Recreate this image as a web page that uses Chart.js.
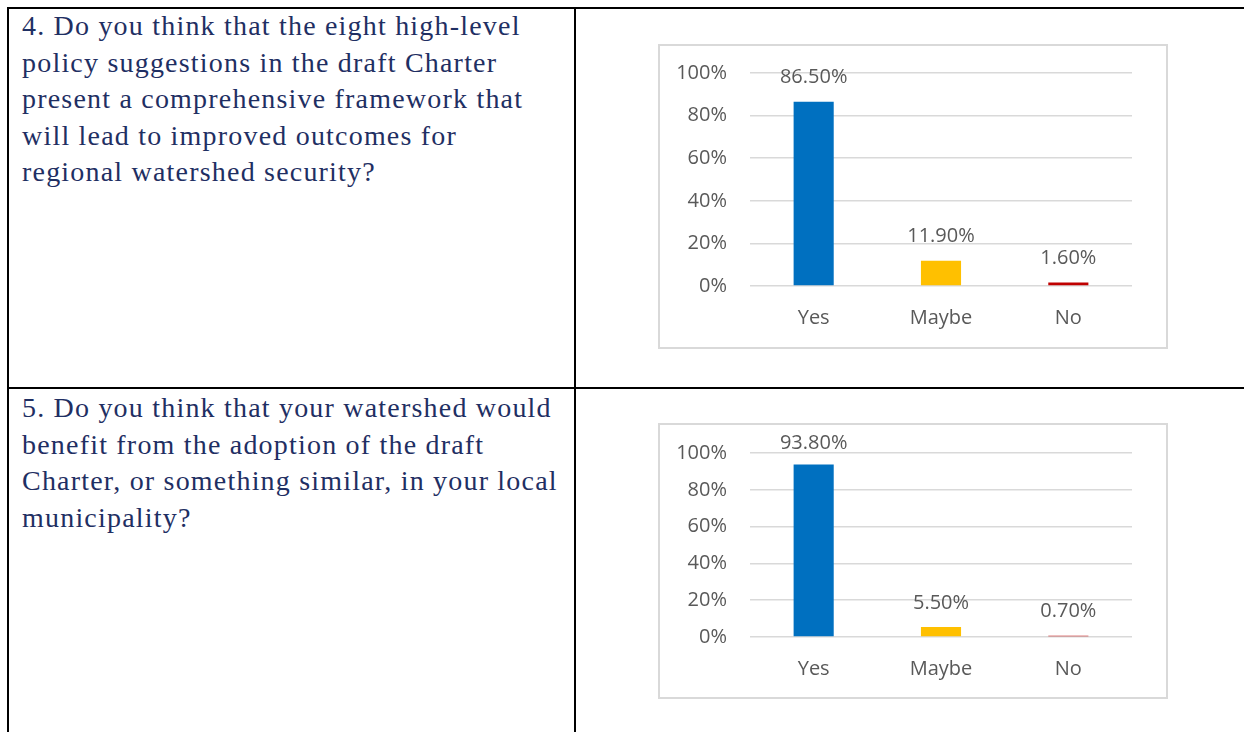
<!DOCTYPE html>
<html>
<head>
<meta charset="utf-8">
<script src="https://cdn.jsdelivr.net/npm/chart.js@4/dist/chart.umd.min.js"></script>
<style>
  body { margin: 0; width: 1244px; height: 732px; background: #fff; position: relative; overflow: hidden; }
  .rule { position: absolute; background: #000; }
  .question { position: absolute; left: 22px; font-family: "Liberation Serif", serif; font-size: 28px; letter-spacing: 1.2px; line-height: 36.6px; color: #1f2f63; white-space: nowrap; }
  .box { position: absolute; left: 658px; width: 510px; border: 2px solid #d9d9d9; box-sizing: border-box; background: #fff; }
  .box canvas { position: absolute; left: 0; top: 0; }
</style>
</head>
<body>
<!-- table rules -->
<div class="rule" style="left:7px;top:7px;width:1237px;height:2px"></div>
<div class="rule" style="left:7px;top:7px;width:2px;height:725px"></div>
<div class="rule" style="left:574px;top:7px;width:2px;height:725px"></div>
<div class="rule" style="left:7px;top:387px;width:1237px;height:2px"></div>

<div class="question" style="top:8px">4. Do you think that the eight high-level<br>policy suggestions in the draft Charter<br>present a comprehensive framework that<br>will lead to improved outcomes for<br>regional watershed security?</div>
<div class="question" style="top:390px">5. Do you think that your watershed would<br>benefit from the adoption of the draft<br>Charter, or something similar, in your local<br>municipality?</div>

<div class="box" style="top:44px;height:305px"><div style="position:absolute;left:0;top:0;width:506px;height:301px"><canvas id="chartQ4"></canvas></div></div>
<div class="box" style="top:423px;height:276px"><div style="position:absolute;left:0;top:0;width:506px;height:272px"><canvas id="chartQ5"></canvas></div></div>

<script>
const categories = ["Yes", "Maybe", "No"];
const q4Values = [86.5, 11.9, 1.6];
const q5Values = [93.8, 5.5, 0.7];
const barColors = ["#0070C0", "#FFC000", "#C00000"];
const yMax = 100;
const yStep = 20;

const textColor = "#595959";
const fontFamily = "'Open Sans', sans-serif";

// percent labels above each bar (kept inside the box like Excel does)
const valueLabels = {
  id: "valueLabels",
  afterDatasetsDraw(chart) {
    const ctx = chart.ctx;
    const meta = chart.getDatasetMeta(0);
    ctx.save();
    ctx.font = "20px " + fontFamily;
    ctx.fillStyle = textColor;
    ctx.textAlign = "center";
    ctx.textBaseline = "middle";
    meta.data.forEach((bar, i) => {
      const v = chart.data.datasets[0].data[i];
      const y = Math.max(bar.y - 24, chart.chartArea.top - 10);
      ctx.fillText(v.toFixed(2) + "%", bar.x, y);
    });
    ctx.restore();
  }
};

function makeChart(id, values, padTop, xHeight) {
  return new Chart(document.getElementById(id), {
    type: "bar",
    data: {
      labels: categories,
      datasets: [{ data: values, backgroundColor: barColors, barPercentage: 1, categoryPercentage: 0.315 }]
    },
    options: {
      responsive: true,
      maintainAspectRatio: false,
      animation: false,
      layout: { padding: { top: padTop, right: 34, left: 0, bottom: 0 } },
      plugins: { legend: { display: false }, tooltip: { enabled: false } },
      scales: {
        x: {
          grid: { display: false, drawTicks: false },
          border: { display: false },
          ticks: { color: textColor, font: { family: fontFamily, size: 20 }, padding: 20 },
          afterFit(scale) { scale.height = xHeight; }
        },
        y: {
          min: 0,
          max: yMax,
          // invisible tick marks push the labels left without padding the top
          grid: { color: "#d9d9d9", lineWidth: 1.5, drawTicks: true, tickLength: 23, tickColor: "rgba(0,0,0,0)" },
          border: { display: false },
          ticks: {
            stepSize: yStep,
            color: textColor,
            font: { family: fontFamily, size: 20 },
            padding: 0,
            callback: (v) => v + "%"
          },
          afterFit(scale) { scale.width = 90; }
        }
      }
    },
    plugins: [valueLabels]
  });
}

makeChart("chartQ4", q4Values, 27, 61);
makeChart("chartQ5", q5Values, 28, 60);
</script>
</body>
</html>
